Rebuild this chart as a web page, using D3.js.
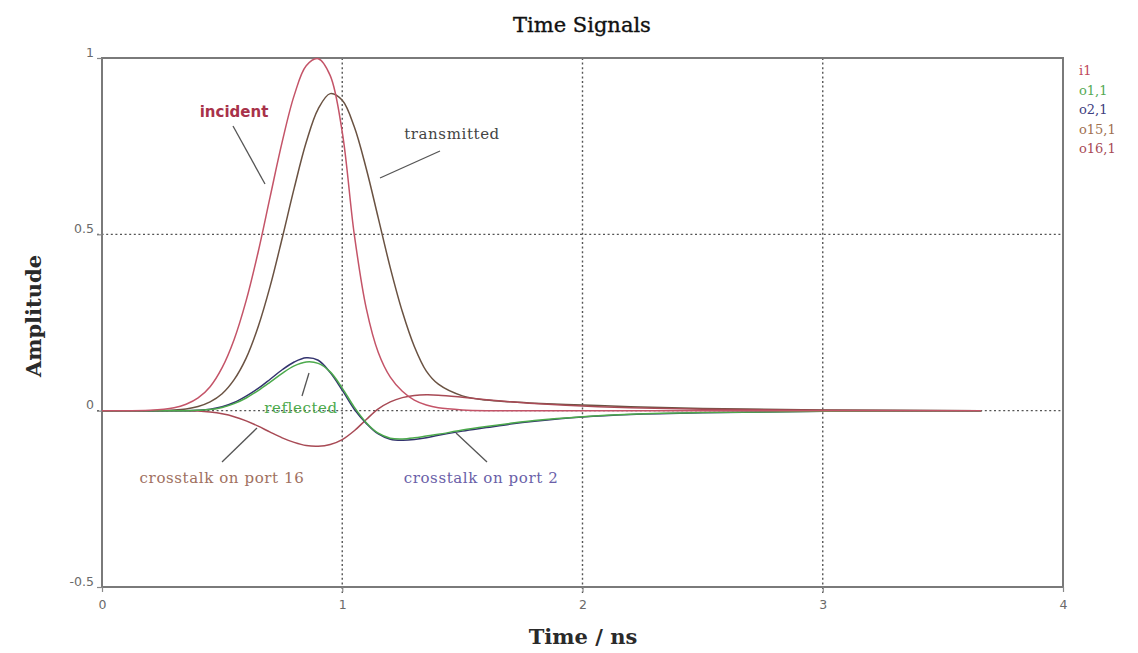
<!DOCTYPE html>
<html>
<head>
<meta charset="utf-8">
<script src="https://cdn.jsdelivr.net/npm/d3@7"></script>
<style>
  html, body { margin: 0; padding: 0; background: #fff; }
  svg { display: block; }
</style>
</head>
<body>
<svg id="chart" width="1138" height="653"></svg>
<script>
// Sample times (ns)
const time = [0, 0.2, 0.3, 0.35, 0.4, 0.45, 0.5, 0.55, 0.6, 0.65, 0.7, 0.75, 0.8, 0.85, 0.9, 0.95,
  1.0, 1.05, 1.1, 1.15, 1.2, 1.25, 1.3, 1.35, 1.4, 1.5, 1.6, 1.7, 1.8, 2.0, 2.2, 2.5, 3.0, 3.66];

// Port signals (amplitude at each sample time)
const i1 = [0, 0.001, 0.008, 0.018, 0.036, 0.068, 0.122, 0.202, 0.312, 0.450, 0.607, 0.762, 0.894, 0.978, 0.998, 0.950,
  0.790, 0.500, 0.290, 0.165, 0.095, 0.055, 0.030, 0.016, 0.008, 0.002, 0, 0, 0, 0, 0, 0, 0, 0];
const o1_1 = [0, 0, 0, 0, 0.001, 0.003, 0.009, 0.020, 0.036, 0.057, 0.081, 0.106, 0.127, 0.138, 0.134, 0.110,
  0.064, 0.010, -0.034, -0.064, -0.078, -0.080, -0.077, -0.072, -0.067, -0.055, -0.045, -0.036, -0.028, -0.017, -0.010, -0.005, -0.002, 0];
const o2_1 = [0, 0, 0, 0, 0.001, 0.004, 0.011, 0.023, 0.041, 0.063, 0.089, 0.116, 0.138, 0.150, 0.143, 0.108,
  0.058, 0.004, -0.036, -0.066, -0.081, -0.084, -0.082, -0.077, -0.070, -0.058, -0.048, -0.038, -0.030, -0.018, -0.011, -0.006, -0.002, 0];
const o15_1 = [0, 0, 0.002, 0.005, 0.012, 0.025, 0.048, 0.088, 0.149, 0.238, 0.353, 0.489, 0.631, 0.761, 0.856, 0.899,
  0.880, 0.805, 0.686, 0.546, 0.405, 0.281, 0.182, 0.112, 0.075, 0.042, 0.030, 0.025, 0.021, 0.016, 0.011, 0.006, 0.002, 0];
const o16_1 = [0, 0, 0, 0, -0.001, -0.004, -0.009, -0.017, -0.029, -0.044, -0.061, -0.077, -0.090, -0.099, -0.101, -0.096,
  -0.082, -0.057, -0.025, 0.005, 0.025, 0.037, 0.043, 0.045, 0.044, 0.038, 0.031, 0.025, 0.020, 0.013, 0.008, 0.004, 0.001, 0];

const seriesNames = ["i1", "o1,1", "o2,1", "o15,1", "o16,1"];
const seriesValues = [i1, o1_1, o2_1, o15_1, o16_1];
const lineColors = ["#c45468", "#4caa4c", "#33336e", "#6a5242", "#a84a55"];
const legendColors = ["#c04a60", "#55aa55", "#404080", "#a07050", "#a84a55"];

const xTicks = [0, 1, 2, 3, 4];
const yTicks = [-0.5, 0, 0.5, 1];
const xGrid = [1, 2, 3];
const yGrid = [0, 0.5];

const svg = d3.select("#chart");
const plotL = 102, plotR = 1063, plotT = 58, plotB = 587;

const x = d3.scaleLinear().domain([0, 4]).range([plotL, plotR]);
const y = d3.scaleLinear().domain([-0.5, 1]).range([plotB, plotT]);

// dotted grid
const grid = svg.append("g").attr("stroke", "#555").attr("stroke-width", 1.4).attr("stroke-dasharray", "2,2.6");
grid.selectAll("line.v").data(xGrid).join("line").attr("class", "v")
  .attr("x1", d => x(d)).attr("x2", d => x(d)).attr("y1", plotT).attr("y2", plotB + 6);
grid.selectAll("line.h").data(yGrid).join("line").attr("class", "h")
  .attr("x1", plotL - 5).attr("x2", plotR).attr("y1", d => y(d)).attr("y2", d => y(d));

// frame
svg.append("rect").attr("x", plotL).attr("y", plotT).attr("width", plotR - plotL).attr("height", plotB - plotT)
  .attr("fill", "none").attr("stroke", "#7a7a7a").attr("stroke-width", 2);

// axes
const xAxis = svg.append("g").attr("transform", `translate(0,${plotB})`)
  .call(d3.axisBottom(x).tickValues(xTicks).tickFormat(d3.format("d")).tickSize(5).tickPadding(8));
const yAxis = svg.append("g").attr("transform", `translate(${plotL},0)`)
  .call(d3.axisLeft(y).tickValues(yTicks).tickFormat(d => d === 0 ? "0" : String(d)).tickSize(5).tickPadding(3));
[xAxis, yAxis].forEach(a => {
  a.select(".domain").remove();
  a.selectAll(".tick line").attr("stroke", "#888").attr("stroke-width", 1.2);
  a.selectAll(".tick text").attr("fill", "#6a6a6a").style("font-family", "DejaVu Sans, sans-serif").style("font-size", "12.5px");
});
yAxis.selectAll(".tick text").attr("dy", "-0.15em");

// signal curves
const line = d3.line().x((d, i) => x(time[i])).y(d => y(d)).curve(d3.curveCatmullRom.alpha(0.5));
const order = [3, 4, 2, 1, 0];
svg.append("g").attr("fill", "none").attr("stroke-width", 1.5)
  .selectAll("path").data(order).join("path")
  .attr("d", k => line(seriesValues[k]))
  .attr("stroke", k => lineColors[k]);

// titles
svg.append("text").attr("x", 582).attr("y", 32).attr("text-anchor", "middle")
  .style("font-family", "DejaVu Serif, serif").style("font-size", "21px").attr("fill", "#111")
  .style("stroke", "#111").style("stroke-width", "0.35px")
  .text("Time Signals");
svg.append("text").attr("x", 583).attr("y", 644).attr("text-anchor", "middle")
  .style("font-family", "DejaVu Serif, serif").style("font-size", "21px").style("font-weight", "bold").attr("fill", "#2a2a2a")
  .text("Time / ns");
svg.append("text").attr("transform", "translate(41,316) rotate(-90)").attr("text-anchor", "middle")
  .style("font-family", "DejaVu Serif, serif").style("font-size", "21px").style("font-weight", "bold").attr("fill", "#2a2a2a")
  .text("Amplitude");

// legend
svg.append("g").selectAll("text").data(seriesNames).join("text")
  .attr("x", 1079).attr("y", (d, i) => 75 + i * 19.5)
  .style("font-family", "DejaVu Serif, serif").style("font-size", "13px")
  .attr("fill", (d, i) => legendColors[i])
  .text(d => d);

// annotations
const notes = [
  { text: "incident", tx: 234, ty: 117, color: "#a8324a", bold: true, serif: false, x1: 233, y1: 126, x2: 265, y2: 184 },
  { text: "transmitted", tx: 452, ty: 139, color: "#444", bold: false, serif: true, x1: 440, y1: 151, x2: 380, y2: 178 },
  { text: "reflected", tx: 301, ty: 413, color: "#4caa4c", bold: false, serif: true, x1: 309, y1: 373, x2: 302, y2: 396 },
  { text: "crosstalk on port 16", tx: 222, ty: 483, color: "#a07060", bold: false, serif: true, x1: 257, y1: 428, x2: 222, y2: 462 },
  { text: "crosstalk on port 2", tx: 481, ty: 483, color: "#6a5fa8", bold: false, serif: true, x1: 456, y1: 433, x2: 487, y2: 462 }
];
const ann = svg.append("g");
ann.selectAll("line").data(notes).join("line")
  .attr("x1", d => d.x1).attr("y1", d => d.y1).attr("x2", d => d.x2).attr("y2", d => d.y2)
  .attr("stroke", "#555").attr("stroke-width", 1.3);
ann.selectAll("text").data(notes).join("text")
  .attr("x", d => d.tx).attr("y", d => d.ty).attr("text-anchor", "middle")
  .style("font-family", d => d.serif ? "DejaVu Serif, serif" : "DejaVu Sans, sans-serif")
  .style("font-size", "15px")
  .style("letter-spacing", d => d.bold ? "0px" : "0.6px")
  .style("font-weight", d => d.bold ? "bold" : "normal")
  .attr("fill", d => d.color)
  .text(d => d.text);
</script>
</body>
</html>
